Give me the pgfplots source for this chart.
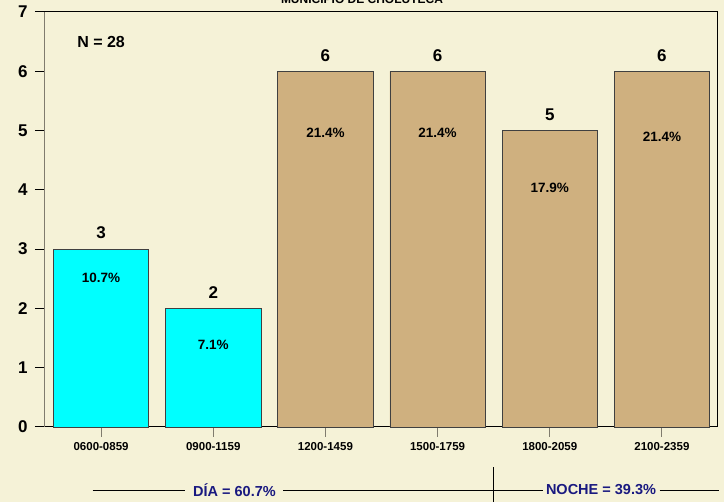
\documentclass[border=0pt]{standalone}
\usepackage{pgfplots}
\pgfplotsset{compat=1.18}
\usepackage{fontspec}
\setmainfont{Liberation Sans}
\definecolor{bg}{RGB}{245,242,215}
\definecolor{tanbar}{RGB}{207,176,127}
\definecolor{cyanbar}{RGB}{0,255,255}
\definecolor{navy}{RGB}{25,25,128}
\definecolor{axgray}{RGB}{128,124,110}
\begin{document}
\begin{tikzpicture}
\path[fill=bg, use as bounding box] (0pt,0pt) rectangle (724pt,502pt);
\node[anchor=base, font=\bfseries\fontsize{12}{12}\selectfont] at (362pt,498pt) {MUNICIPIO DE CHOLUTECA};
\begin{axis}[
 at={(45pt,75pt)}, anchor=south west,
 scale only axis, width=673pt, height=415pt,
 xmin=-0.5, xmax=5.5, ymin=0, ymax=7,
 bar width=0.85, bar shift=0pt,
 xtick={0,...,5},
 xticklabels={0600-0859,0900-1159,1200-1459,1500-1759,1800-2059,2100-2359},
 ytick={0,...,7},
 tick align=outside, major tick length=10pt,
 xtick pos=bottom, ytick pos=left,
 y tick style={black, line width=1pt},
 x tick style={axgray, line width=1pt},
 axis line style={black, line width=1pt},
 x tick label style={font=\bfseries\fontsize{11.5}{12}\selectfont, yshift=-2pt},
 y tick label style={font=\bfseries\fontsize{17}{17}\selectfont, xshift=-4pt},
 /pgf/number format/assume math mode=true,
 clip=false,
 after end axis/.code={\draw[axgray, line width=1pt] (rel axis cs:0,0) -- (rel axis cs:0,1);},
]
\addplot[ybar, fill=cyanbar, draw=black!75, line width=0.8pt,
  nodes near coords,
  every node near coord/.append style={font=\bfseries\fontsize{17}{17}\selectfont, black, anchor=center, yshift=16pt}]
  coordinates {(0,3) (1,2)};
\addplot[ybar, fill=tanbar, draw=black!75, line width=0.8pt,
  nodes near coords,
  every node near coord/.append style={font=\bfseries\fontsize{17}{17}\selectfont, black, anchor=center, yshift=16pt}]
  coordinates {(2,6) (3,6) (4,5) (5,6)};
\addplot[draw=none, mark=none, nodes near coords, point meta=explicit symbolic,
  every node near coord/.append style={font=\bfseries\fontsize{13.5}{14}\selectfont, black, anchor=center}]
  table[meta=label] {
x y label
0 2.51 10.7\%
1 1.39 7.1\%
2 4.97 21.4\%
3 4.97 21.4\%
4 4.04 17.9\%
5 4.89 21.4\%
};
\node[font=\bfseries\fontsize{16}{16}\selectfont] at (axis cs:0,6.49) {N = 28};
\draw[black, line width=0.8pt] (axis cs:-0.076,-1.062) -- (axis cs:0.752,-1.062);
\node[navy, font=\bfseries\fontsize{14.5}{14}\selectfont] at (axis cs:1.189,-1.062) {DÍA = 60.7\%};
\draw[black, line width=0.8pt] (axis cs:1.625,-1.062) -- (axis cs:3.94,-1.062);
\draw[black, line width=0.8pt] (axis cs:3.5,-0.675) -- (axis cs:3.5,-1.3);
\node[navy, font=\bfseries\fontsize{14.5}{14}\selectfont] at (axis cs:4.457,-1.062) {NOCHE = 39.3\%};
\draw[black, line width=0.8pt] (axis cs:4.98,-1.062) -- (axis cs:5.507,-1.062);
\end{axis}
\end{tikzpicture}
\end{document}
